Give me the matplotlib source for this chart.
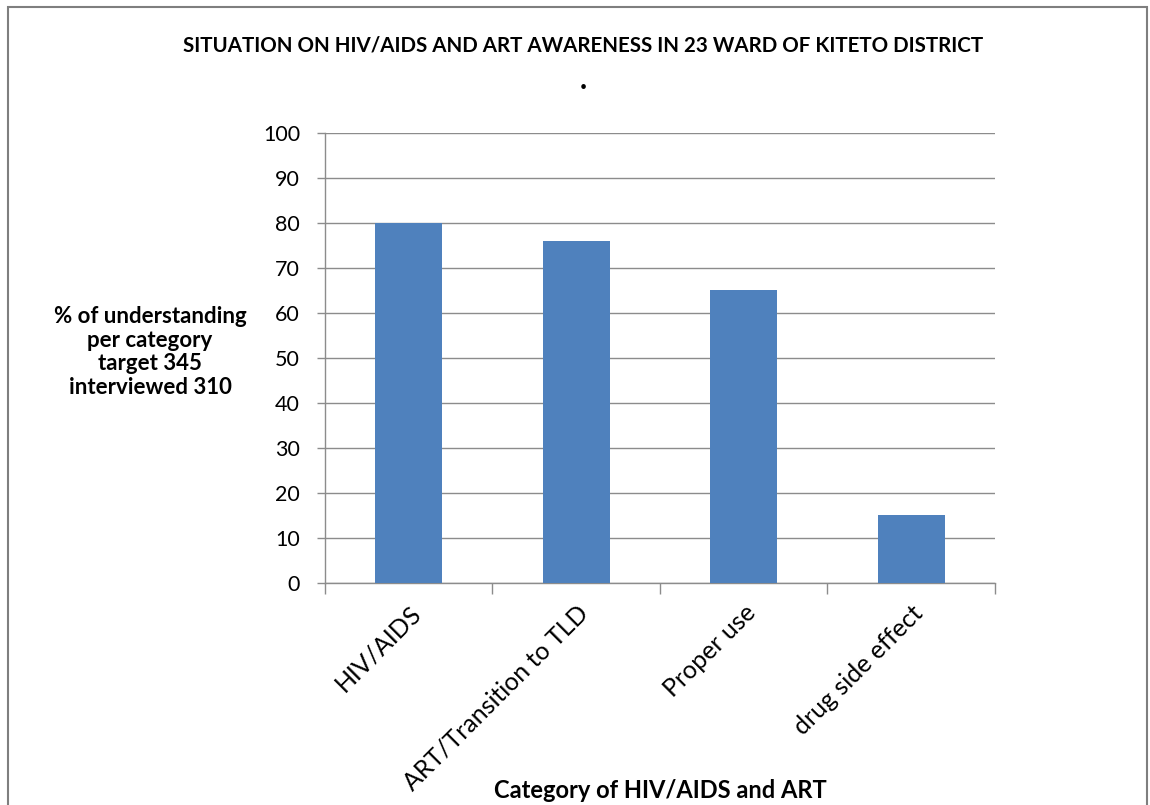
import matplotlib
matplotlib.use("Agg")
import matplotlib.pyplot as plt
from matplotlib.patches import Rectangle

categories = ["HIV/AIDS", "ART/Transition to TLD", "Proper use", "drug side effect"]
values = [80, 76, 65, 15]
yticks = [0, 10, 20, 30, 40, 50, 60, 70, 80, 90, 100]

title = "SITUATION ON HIV/AIDS AND ART AWARENESS IN 23 WARD OF KITETO DISTRICT"
ylabel = "% of understanding\nper category\ntarget 345\ninterviewed 310"
xlabel = "Category of HIV/AIDS and ART"

plt.rcParams["font.family"] = ["Lato", "DejaVu Sans"]

fig = plt.figure(figsize=(11.5, 8.05), dpi=100)
ax = fig.add_axes([0.2826, 0.2758, 0.5826, 0.559])

bar_color = "#4F81BD"
grid_color = "#8C8C8C"

x = list(range(len(categories)))
ax.bar(x, values, width=0.4, color=bar_color, zorder=3)

ax.set_xlim(-0.5, len(categories) - 0.5)
ax.set_ylim(0, 100)
ax.set_yticks(yticks)
ax.tick_params(axis="y", labelsize=15.5, length=6, color=grid_color, width=1, pad=12)
ax.yaxis.grid(True, color=grid_color, linewidth=1, zorder=0)

# category boundary ticks on x axis, labels at centres
ax.set_xticks([i - 0.5 for i in range(len(categories) + 1)])
ax.set_xticklabels([])
ax.tick_params(axis="x", length=8, color=grid_color, width=1)
ax.set_xticks(x, minor=True)
ax.set_xticklabels(categories, minor=True, rotation=45, ha="right", va="top",
                   rotation_mode="anchor", fontsize=18)
ax.tick_params(axis="x", which="minor", length=0, pad=13)

for s in ["top", "right"]:
    ax.spines[s].set_visible(False)
for s in ["left", "bottom"]:
    ax.spines[s].set_color(grid_color)
    ax.spines[s].set_linewidth(1)

fig.text(583 / 1150, 1 - 45 / 805, title, ha="center", va="center",
         fontsize=14.8, fontweight="bold")
fig.text(583 / 1150, 1 - 80 / 805, ".", ha="center", va="center",
         fontsize=22, fontweight="bold")
fig.text(150 / 1150, 1 - 352 / 805, ylabel, ha="center", va="center",
         fontsize=16, fontweight="bold", linespacing=1.15)
fig.text(660 / 1150, 1 - 790 / 805, xlabel, ha="center", va="center",
         fontsize=17, fontweight="bold")

# chart frame
fig.patches.append(Rectangle((8 / 1150, -0.05), 1139 / 1150, 1.05 - 7 / 805,
                             transform=fig.transFigure, fill=False,
                             edgecolor="#7F7F7F", linewidth=1.5))

fig.savefig("out.png", dpi=100)
